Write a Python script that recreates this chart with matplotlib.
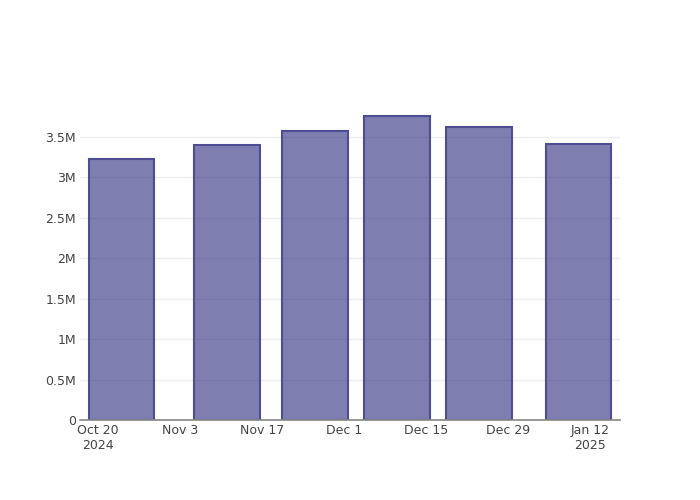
import numpy as np
import matplotlib.pyplot as plt
import matplotlib.dates as mdates
from datetime import datetime, timedelta

# Datos
fechas = ['2024-10-24', '2024-11-11', '2024-11-26', '2024-12-10', '2024-12-24', '2025-01-10']
valores = [3.228e6, 3.40e6, 3.574e6, 3.76e6, 3.62e6, 3.413e6]
ticks_x = ['2024-10-20', '2024-11-03', '2024-11-17', '2024-12-01', '2024-12-15', '2024-12-29', '2025-01-12']
etiquetas_x = ['Oct 20\n2024', 'Nov 3', 'Nov 17', 'Dec 1', 'Dec 15', 'Dec 29', 'Jan 12\n2025']
ticks_y = [0, 0.5e6, 1e6, 1.5e6, 2e6, 2.5e6, 3e6, 3.5e6]
etiquetas_y = ['0', '0.5M', '1M', '1.5M', '2M', '2.5M', '3M', '3.5M']

x = [datetime.strptime(f, '%Y-%m-%d') for f in fechas]
tx = [datetime.strptime(f, '%Y-%m-%d') for f in ticks_x]

fig = plt.figure(figsize=(7, 5), dpi=100)
ax = fig.add_axes([80 / 700, 80 / 500, 540 / 700, 320 / 500])

# Relleno semitransparente para que la rejilla se vea a traves
ax.bar(x, valores, width=11.2, color=(26 / 255, 26 / 255, 114 / 255, 0.56),
       edgecolor='#4d4d94', linewidth=1.5, zorder=3)

ax.set_xlim(datetime(2024, 10, 20) - timedelta(days=3.07), datetime(2024, 10, 20) + timedelta(days=89.1))
ax.set_ylim(0, 3.957e6)
ax.set_xticks(tx)
ax.set_xticklabels(etiquetas_x)
ax.set_yticks(ticks_y)
ax.set_yticklabels(etiquetas_y)

ax.grid(axis='y', color='#eeeeee', linewidth=1, zorder=0)
for lado in ['top', 'right', 'left']:
    ax.spines[lado].set_visible(False)
ax.spines['bottom'].set_color('#888888')
ax.spines['bottom'].set_linewidth(1.2)
ax.spines['bottom'].set_zorder(4)
ax.tick_params(axis='both', length=0, labelsize=9, labelcolor='#444444', pad=3)

plt.savefig('out.png', dpi=100)
